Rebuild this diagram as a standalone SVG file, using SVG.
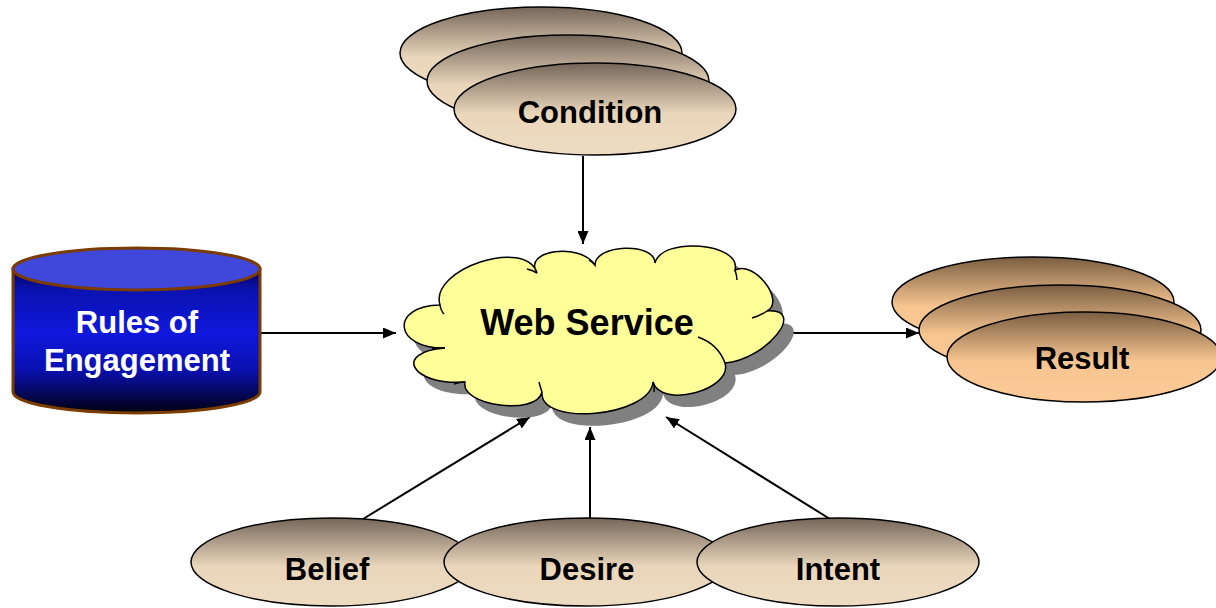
<svg xmlns="http://www.w3.org/2000/svg" width="1216" height="608" viewBox="0 0 1216 608">
<style>
.lbl{font-family:"Liberation Sans",Arial,sans-serif;font-weight:bold;font-size:31px;text-anchor:middle;fill:#000}
.tan{fill:url(#gTan);stroke:#000;stroke-width:1.5}
.peach{fill:url(#gPeach);stroke:#000;stroke-width:1.5}
.conn{stroke:#000;stroke-width:2;fill:none;marker-end:url(#arr)}
</style>
<defs>
<linearGradient id="gTan" x1="0" y1="0" x2="0" y2="1">
<stop offset="0" stop-color="#75665a"/>
<stop offset="0.55" stop-color="#e9d6bb"/>
<stop offset="1" stop-color="#eedcc2"/>
</linearGradient>
<linearGradient id="gPeach" x1="0" y1="0" x2="0" y2="1">
<stop offset="0" stop-color="#7a5e42"/>
<stop offset="0.55" stop-color="#f7c590"/>
<stop offset="1" stop-color="#fcca96"/>
</linearGradient>
<linearGradient id="gBlue" x1="0" y1="269" x2="0" y2="413" gradientUnits="userSpaceOnUse">
<stop offset="0" stop-color="#000060"/>
<stop offset="0.15" stop-color="#0a12b0"/>
<stop offset="0.45" stop-color="#0f18dc"/>
<stop offset="0.7" stop-color="#0a10b0"/>
<stop offset="1" stop-color="#000010"/>
</linearGradient>
<marker id="arr" viewBox="0 0 13 11" refX="13" refY="5.5" markerWidth="13" markerHeight="11" markerUnits="userSpaceOnUse" orient="auto">
<path d="M0,0 L13,5.5 L0,11 Z" fill="#000"/>
</marker>
<path id="cloudPath" d="M440,305 C389,306 394,349 445,348 C392,352 412,386 465,382 C460,406 537,416 542,392 C539,427 650,417 653,382 C661,409 733,390 725,363 C766,360 808,308 767,311 C786,301 754,260 735,270 C742,243 662,236 655,263 C655,242 595,244 595,265 C580,242 522,250 537,273 C526,237 429,269 440,305 Z"/>
</defs>

<g id="connectors">
<line class="conn" x1="583" y1="156" x2="583" y2="244"/>
<line class="conn" x1="261" y1="333" x2="396" y2="333"/>
<line class="conn" x1="786" y1="333" x2="919" y2="333"/>
<line class="conn" x1="363" y1="519" x2="530" y2="417"/>
<line class="conn" x1="590" y1="519" x2="590" y2="427"/>
<line class="conn" x1="830" y1="519" x2="666" y2="417"/>
</g>

<g id="condition">
<ellipse class="tan" cx="541" cy="53" rx="141" ry="46"/>
<ellipse class="tan" cx="568" cy="81" rx="141" ry="46"/>
<ellipse class="tan" cx="595" cy="109" rx="141" ry="46"/>
<text class="lbl" x="590" y="123">Condition</text>
</g>

<g id="rules">
<path d="M13,269 L13,392 A123.5,21 0 0 0 260,392 L260,269 Z" fill="url(#gBlue)" stroke="#7a3c00" stroke-width="3"/>
<ellipse cx="136.5" cy="269" rx="123.5" ry="21" fill="#4048dc" stroke="#7a3c00" stroke-width="3"/>
<text class="lbl" x="137" y="333" style="fill:#fff">Rules of</text>
<text class="lbl" x="137" y="371" style="fill:#fff">Engagement</text>
</g>

<g id="webservice">
<use href="#cloudPath" transform="translate(10,12)" fill="#808080"/>
<use href="#cloudPath" fill="#ffff99" stroke="#000" stroke-width="1.5"/>
<g fill="none" stroke="#000" stroke-width="1.5">
<path d="M440,305 Q441,311 444,314"/>
<path d="M445,348 Q438,347 432,349"/>
<path d="M465,382 Q459,382 454,384"/>
<path d="M542,392 Q540,386 539,382"/>
<path d="M653,382 Q655,387 654,392"/>
<path d="M698,337 Q718,344 725,363"/>
<path d="M767,311 Q760,316 752,318"/>
<path d="M735,270 Q737,276 737,280"/>
<path d="M595,265 Q592,262 589,260"/>
<path d="M537,273 Q532,270 527,269"/>
</g>
<text class="lbl" x="587" y="335" style="font-size:36px">Web Service</text>
</g>

<g id="result">
<ellipse class="peach" cx="1033" cy="302" rx="141" ry="45"/>
<ellipse class="peach" cx="1060" cy="330" rx="141" ry="45"/>
<ellipse class="peach" cx="1084" cy="357" rx="137" ry="45"/>
<text class="lbl" x="1082" y="369">Result</text>
</g>

<g id="belief">
<ellipse class="tan" cx="332" cy="562" rx="141" ry="44"/>
<text class="lbl" x="327" y="580">Belief</text>
</g>
<g id="desire">
<ellipse class="tan" cx="586" cy="562" rx="142" ry="44"/>
<text class="lbl" x="587" y="580">Desire</text>
</g>
<g id="intent">
<ellipse class="tan" cx="838" cy="562" rx="141" ry="44"/>
<text class="lbl" x="838" y="580">Intent</text>
</g>
</svg>
